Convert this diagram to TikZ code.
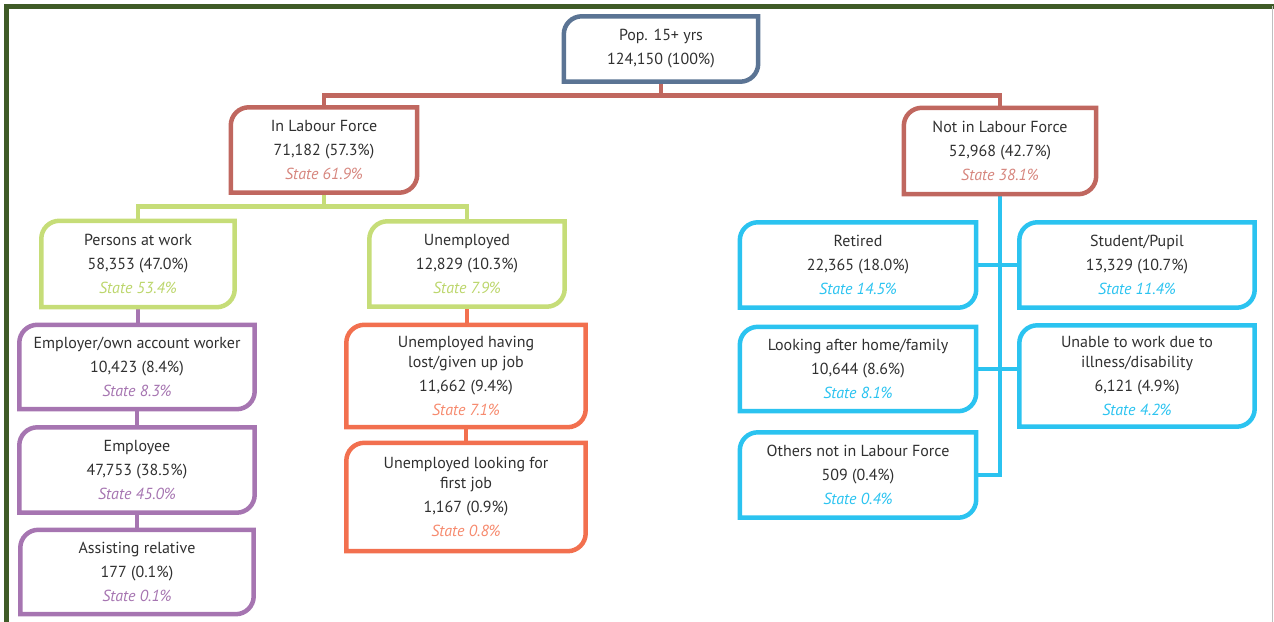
\documentclass[tikz,border=0pt]{standalone}
\usepackage{fontspec}
\setmainfont{PT Sans}
\definecolor{frame}{HTML}{3F5B27}
\definecolor{slate}{HTML}{5B7494}
\definecolor{lfred}{HTML}{C0675F}
\definecolor{lfredlt}{HTML}{D6867E}
\definecolor{lime}{HTML}{C6DD78}
\definecolor{limelt}{HTML}{BCD66C}
\definecolor{plum}{HTML}{A675B1}
\definecolor{coral}{HTML}{F2704F}
\definecolor{coralt}{HTML}{F68A6E}
\definecolor{sky}{HTML}{2BC3F0}
\definecolor{txt}{HTML}{303030}
% box outline: rounded top left and bottom right corners
\newcommand{\frm}[2]{\draw[#2,line width=4.5pt] ([yshift=-18pt]#1.north west) arc[start angle=180,end angle=90,radius=18pt] -- (#1.north east) -- ([yshift=18pt]#1.south east) arc[start angle=0,end angle=-90,radius=18pt] -- (#1.south west) -- cycle;}
\newcommand{\st}[2]{{\color{#1}\itshape State #2}}
\tikzset{
  box/.style 2 args={minimum width=#1pt,minimum height=#2pt,inner sep=0pt,align=center,text=txt},
  link/.style={line width=4.5pt}
}
\begin{document}
\begin{tikzpicture}[x=1pt,y=1pt,font=\fontsize{16}{24}\selectfont]
\useasboundingbox (0,0) rectangle (1274,-621);
% frame
\draw[frame,line width=5pt] (6.5,-630) -- (6.5,-6) -- (1280,-6);
\draw[gray!50,line width=1pt] (1272,-6) -- (1272,-630);
% nodes
\node[box={194}{65}] (root) at (661,-49) {Pop. 15+ yrs\\124,150 (100\%)};
\node[box={186}{85}] (inlf) at (324,-150) {In Labour Force\\71,182 (57.3\%)\\\st{lfredlt}{61.9\%}};
\node[box={192}{86}] (notlf) at (1000,-151) {Not in Labour Force\\52,968 (42.7\%)\\\st{lfredlt}{38.1\%}};
\node[box={193}{86}] (work) at (138,-264) {Persons at work\\58,353 (47.0\%)\\\st{limelt}{53.4\%}};
\node[box={195}{85}] (unemp) at (467,-264) {Unemployed\\12,829 (10.3\%)\\\st{limelt}{7.9\%}};
\node[box={235}{84}] (employer) at (137,-367) {Employer/own account worker\\10,423 (8.4\%)\\\st{plum}{8.3\%}};
\node[box={235}{85}] (employee) at (137,-470) {Employee\\47,753 (38.5\%)\\\st{plum}{45.0\%}};
\node[box={233}{84}] (assist) at (137,-572) {Assisting relative\\177 (0.1\%)\\\st{plum}{0.1\%}};
\node[box={239}{102}] (lost) at (466,-376) {Unemployed having\\[-4pt]lost/given up job\\11,662 (9.4\%)\\\st{coralt}{7.1\%}};
\node[box={239}{108}] (first) at (466,-497) {Unemployed looking for\\[-4pt]first job\\1,167 (0.9\%)\\\st{coralt}{0.8\%}};
\node[box={236}{85}] (retired) at (858,-265) {Retired\\22,365 (18.0\%)\\\st{sky}{14.5\%}};
\node[box={235}{85}] (student) at (1137,-265) {Student/Pupil\\13,329 (10.7\%)\\\st{sky}{11.4\%}};
\node[box={236}{84}] (home) at (858,-369) {Looking after home/family\\10,644 (8.6\%)\\\st{sky}{8.1\%}};
\node[box={235}{101}] (unable) at (1137,-376) {Unable to work due to\\[-4pt]illness/disability\\6,121 (4.9\%)\\\st{sky}{4.2\%}};
\node[box={236}{85}] (others) at (858,-475) {Others not in Labour Force\\509 (0.4\%)\\\st{sky}{0.4\%}};
% connectors
\draw[link,lfred] (root.south) -- ++(0,-14) coordinate (rb) -- (rb -| inlf.north) -- (inlf.north);
\draw[link,lfred] (rb) -- (rb -| notlf.north) -- (notlf.north);
\draw[link,lime] (inlf.south) -- ++(0,-14) coordinate (lb) -- (lb -| work.north) -- (work.north);
\draw[link,lime] (lb) -- (lb -| unemp.north) -- (unemp.north);
\draw[link,plum] (work.south) -- (work.south |- employer.north);
\draw[link,plum] (employer.south) -- (employee.north);
\draw[link,plum] (employee.south) -- (assist.north);
\draw[link,coral] (unemp.south) -- (unemp.south |- lost.north);
\draw[link,coral] (lost.south) -- (first.north);
\coordinate (tb) at (notlf.south |- others.east);
\draw[link,sky] (notlf.south) -- (tb) -- (others.east);
\draw[link,sky] (retired.east) -- (student.west);
\draw[link,sky] (home.east) -- (home.east -| unable.west);
% outlines
\frm{root}{slate}
\frm{inlf}{lfred}
\frm{notlf}{lfred}
\frm{work}{lime}
\frm{unemp}{lime}
\frm{employer}{plum}
\frm{employee}{plum}
\frm{assist}{plum}
\frm{lost}{coral}
\frm{first}{coral}
\frm{retired}{sky}
\frm{student}{sky}
\frm{home}{sky}
\frm{unable}{sky}
\frm{others}{sky}
\end{tikzpicture}
\end{document}
